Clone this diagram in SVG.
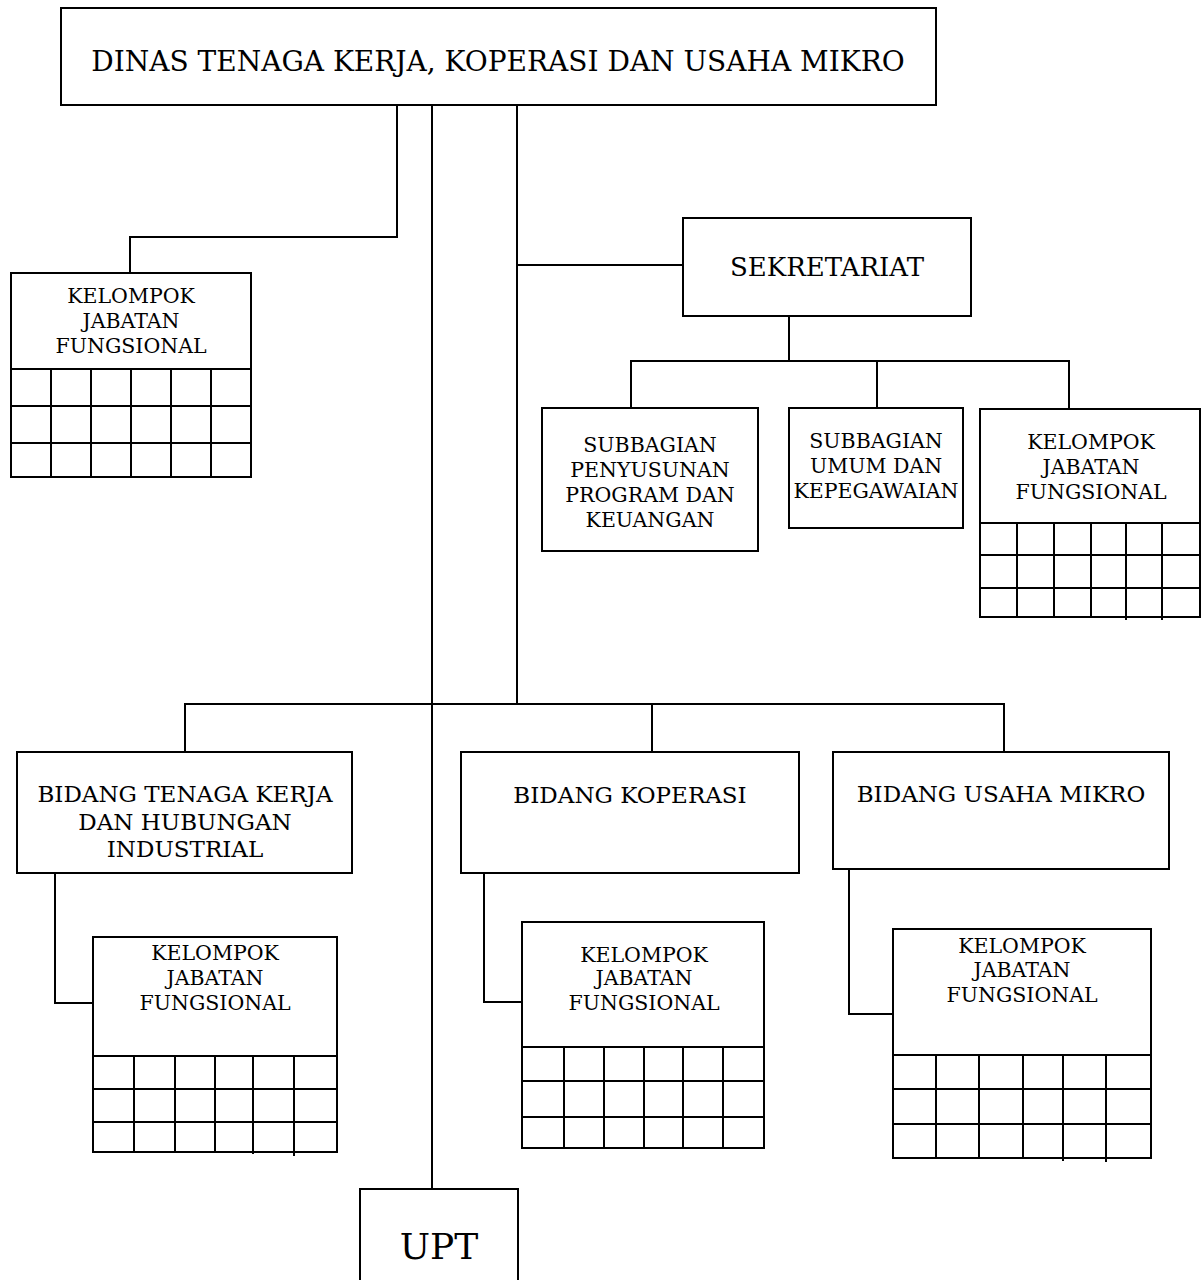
<svg xmlns="http://www.w3.org/2000/svg" width="1203" height="1280" viewBox="0 0 1203 1280">
  <style>
    .box { fill: #fff; stroke: #000; stroke-width: 2; }
    .grid { fill: none; stroke: #000; stroke-width: 2; }
    .conn { fill: none; stroke: #000; stroke-width: 2; }
    text { font-family: "DejaVu Serif", "Liberation Serif", serif; fill: #000; text-anchor: middle; }
    .t-head { font-size: 28px; }
    .t-sek { font-size: 26px; }
    .t-bid { font-size: 23px; }
    .t-sm { font-size: 20.5px; }
    .t-upt { font-size: 36px; }
  </style>
  <rect width="1203" height="1280" fill="#fff"/>

  <!-- connectors -->
  <g id="connectors">
    <path class="conn" d="M397,105 V237 H130 V273"/>
    <path class="conn" d="M432,105 V1189"/>
    <path class="conn" d="M517,105 V704"/>
    <path class="conn" d="M517,265 H683"/>
    <path class="conn" d="M789,316 V361"/>
    <path class="conn" d="M631,408 V361 H1069 V409"/>
    <path class="conn" d="M877,361 V408"/>
    <path class="conn" d="M185,752 V704 H1004 V752"/>
    <path class="conn" d="M652,704 V752"/>
    <path class="conn" d="M55,873 V1003 H93"/>
    <path class="conn" d="M484,873 V1002 H522"/>
    <path class="conn" d="M849,869 V1014 H893"/>
  </g>

  <!-- head office -->
  <g id="dinas">
    <rect class="box" x="61" y="8" width="875" height="97"/>
    <text class="t-head" x="498" y="71">DINAS TENAGA KERJA, KOPERASI DAN USAHA MIKRO</text>
  </g>

  <!-- functional group attached to head office -->
  <g id="kjf-dinas">
    <rect class="box" x="11" y="273" width="240" height="204"/>
    <text class="t-sm" x="131" y="303">KELOMPOK</text>
    <text class="t-sm" x="131" y="328">JABATAN</text>
    <text class="t-sm" x="131" y="353">FUNGSIONAL</text>
    <path class="grid" d="M11,369 H251 M11,406 H251 M11,443 H251 M51,369 V477 M91,369 V477 M131,369 V477 M171,369 V477 M211,369 V477"/>
  </g>

  <!-- secretariat -->
  <g id="sekretariat">
    <rect class="box" x="683" y="218" width="288" height="98"/>
    <text class="t-sek" x="827" y="276">SEKRETARIAT</text>
  </g>

  <g id="subbagian-program">
    <rect class="box" x="542" y="408" width="216" height="143"/>
    <text class="t-sm" x="650" y="452">SUBBAGIAN</text>
    <text class="t-sm" x="650" y="477">PENYUSUNAN</text>
    <text class="t-sm" x="650" y="502">PROGRAM DAN</text>
    <text class="t-sm" x="650" y="527">KEUANGAN</text>
  </g>

  <g id="subbagian-umum">
    <rect class="box" x="789" y="408" width="174" height="120"/>
    <text class="t-sm" x="876" y="448">SUBBAGIAN</text>
    <text class="t-sm" x="876" y="473">UMUM DAN</text>
    <text class="t-sm" x="876" y="498">KEPEGAWAIAN</text>
  </g>

  <g id="kjf-sekretariat">
    <rect class="box" x="980" y="409" width="220" height="208"/>
    <text class="t-sm" x="1091" y="449">KELOMPOK</text>
    <text class="t-sm" x="1091" y="474">JABATAN</text>
    <text class="t-sm" x="1091" y="499">FUNGSIONAL</text>
    <path class="grid" d="M980,523 H1200 M980,555 H1200 M980,588 H1200 M1017,523 V617 M1054,523 V617 M1091,523 V617 M1126,523 V620 M1162,523 V620"/>
  </g>

  <!-- divisions -->
  <g id="bidang-tenaga-kerja">
    <rect class="box" x="17" y="752" width="335" height="121"/>
    <text class="t-bid" x="185" y="802">BIDANG TENAGA KERJA</text>
    <text class="t-bid" x="185" y="830">DAN HUBUNGAN</text>
    <text class="t-bid" x="185" y="857">INDUSTRIAL</text>
  </g>

  <g id="bidang-koperasi">
    <rect class="box" x="461" y="752" width="338" height="121"/>
    <text class="t-bid" x="630" y="803">BIDANG KOPERASI</text>
  </g>

  <g id="bidang-usaha-mikro">
    <rect class="box" x="833" y="752" width="336" height="117"/>
    <text class="t-bid" x="1001" y="802">BIDANG USAHA MIKRO</text>
  </g>

  <g id="kjf-tenaga-kerja">
    <rect class="box" x="93" y="937" width="244" height="215"/>
    <text class="t-sm" x="215" y="960">KELOMPOK</text>
    <text class="t-sm" x="215" y="985">JABATAN</text>
    <text class="t-sm" x="215" y="1010">FUNGSIONAL</text>
    <path class="grid" d="M93,1056 H337 M93,1089 H337 M93,1122 H337 M134,1056 V1152 M175,1056 V1152 M215,1056 V1152 M253,1056 V1154 M294,1056 V1156"/>
  </g>

  <g id="kjf-koperasi">
    <rect class="box" x="522" y="922" width="242" height="226"/>
    <text class="t-sm" x="644" y="962">KELOMPOK</text>
    <text class="t-sm" x="644" y="985">JABATAN</text>
    <text class="t-sm" x="644" y="1010">FUNGSIONAL</text>
    <path class="grid" d="M522,1047 H764 M522,1081 H764 M522,1117 H764 M564,1047 V1148 M604,1047 V1148 M644,1047 V1148 M683,1047 V1148 M723,1047 V1148"/>
  </g>

  <g id="kjf-usaha-mikro">
    <rect class="box" x="893" y="929" width="258" height="229"/>
    <text class="t-sm" x="1022" y="953">KELOMPOK</text>
    <text class="t-sm" x="1022" y="977">JABATAN</text>
    <text class="t-sm" x="1022" y="1002">FUNGSIONAL</text>
    <path class="grid" d="M893,1055 H1151 M893,1089 H1151 M893,1124 H1151 M936,1055 V1158 M979,1055 V1158 M1023,1055 V1158 M1063,1055 V1161 M1106,1055 V1162"/>
  </g>

  <!-- technical unit -->
  <g id="upt">
    <rect class="box" x="360" y="1189" width="158" height="100"/>
    <text class="t-upt" x="439" y="1259">UPT</text>
  </g>
</svg>
